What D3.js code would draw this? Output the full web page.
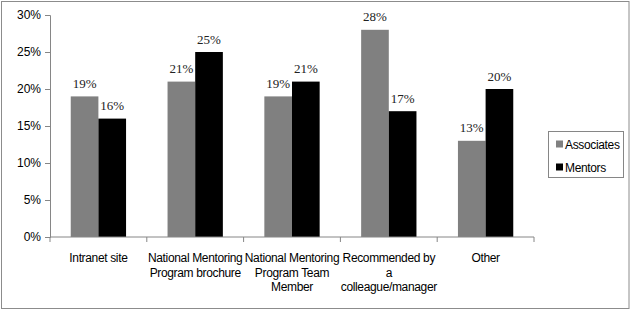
<!DOCTYPE html>
<html>
<head>
<meta charset="utf-8">
<script src="https://cdn.jsdelivr.net/npm/d3@7"></script>
<style>
  body { margin: 0; background: #fff; }
  .axis-label, .legend text { font-family: 'Liberation Sans', Arial, sans-serif; font-size: 12px; letter-spacing: -0.35px; fill: #000; }
  .tick-label { font-family: 'Liberation Sans', Arial, sans-serif; font-size: 12px; fill: #000; }
  .value-label { font-family: 'Liberation Serif', 'Times New Roman', serif; font-size: 13px; fill: #222; }
</style>
</head>
<body>
<div id="chart"></div>
<script>
const categories = ['Intranet site', 'National Mentoring\nProgram brochure', 'National Mentoring\nProgram Team\nMember', 'Recommended by\na\ncolleague/manager', 'Other']
const seriesNames = ['Associates', 'Mentors']
const associates = [19, 21, 19, 28, 13]
const mentors = [16, 25, 21, 17, 20]
const yTicks = [0, 5, 10, 15, 20, 25, 30]
const colors = ['#808080', '#000000']

const width = 632
const height = 310
const margins = {top: 15, left: 50, right: 98, bottom: 73}

const data = categories.map((c, i) => ({cat: c, values: [associates[i], mentors[i]]}))

const svg = d3.select('#chart')
  .append('svg')
  .attr('width', width)
  .attr('height', height)

// outer frame
svg.append('rect')
  .attr('x', 1.5).attr('y', 1.5)
  .attr('width', 627.5).attr('height', 307)
  .attr('fill', 'none')
  .attr('stroke', '#8c8c8c')

const x = d3.scaleBand()
  .domain(categories)
  .range([margins.left, width - margins.right])
  .paddingInner(0).paddingOuter(0)

const xInner = d3.scaleBand()
  .domain(seriesNames)
  .range([0, x.bandwidth()])
  .paddingInner(0)
  .paddingOuter(0.75)

const y = d3.scaleLinear()
  .domain([0, 30])
  .range([height - margins.bottom, margins.top])

// y-axis
const yAxisG = svg.append('g')
  .attr('transform', 'translate(' + margins.left + ',0)')
  .call(d3.axisLeft(y).tickValues(yTicks).tickFormat(d => d + '%').tickSizeOuter(0).tickSize(5).tickPadding(4))
yAxisG.select('.domain').attr('stroke', '#868686')
yAxisG.selectAll('.tick line').attr('stroke', '#868686')
yAxisG.selectAll('.tick text').attr('class', 'tick-label').attr('font-size', null).attr('font-family', null)

// bars
const groups = svg.append('g').classed('bars', true)
  .selectAll('g')
  .data(data)
  .enter().append('g')
  .attr('transform', d => 'translate(' + x(d.cat) + ',0)')

groups.selectAll('rect')
  .data(d => d.values.map((v, i) => ({name: seriesNames[i], v: v, i: i})))
  .enter().append('rect')
  .attr('x', d => xInner(d.name))
  .attr('y', d => y(d.v))
  .attr('width', xInner.bandwidth())
  .attr('height', d => y(0) - y(d.v))
  .attr('fill', d => colors[d.i])

groups.selectAll('text.value-label')
  .data(d => d.values.map((v, i) => ({name: seriesNames[i], v: v, i: i})))
  .enter().append('text')
  .classed('value-label', true)
  .attr('x', d => xInner(d.name) + xInner.bandwidth() / 2)
  .attr('y', d => y(d.v) - 8.5)
  .attr('text-anchor', 'middle')
  .text(d => d.v + '%')

// x-axis
const xAxisG = svg.append('g')
  .attr('transform', 'translate(0,' + y(0) + ')')
xAxisG.append('line')
  .attr('x1', margins.left).attr('x2', width - margins.right)
  .attr('stroke', '#868686')
xAxisG.selectAll('line.tick')
  .data(categories.concat(['__end']))
  .enter().append('line')
  .attr('x1', (d, i) => i < categories.length ? x(d) : x.range()[1])
  .attr('x2', (d, i) => i < categories.length ? x(d) : x.range()[1])
  .attr('y1', 0).attr('y2', 5)
  .attr('stroke', '#868686')

const labels = xAxisG.selectAll('text')
  .data(categories)
  .enter().append('text')
  .classed('axis-label', true)
  .attr('text-anchor', 'middle')
  .attr('transform', d => 'translate(' + (x(d) + x.bandwidth() / 2) + ',25)')
labels.selectAll('tspan')
  .data(d => d.split('\n'))
  .enter().append('tspan')
  .attr('x', 0)
  .attr('dy', (d, i) => i === 0 ? 0 : 14.5)
  .text(d => d)

// legend
const legend = svg.append('g').classed('legend', true)
legend.append('rect')
  .attr('x', 548.5).attr('y', 131.5)
  .attr('width', 75).attr('height', 46)
  .attr('fill', '#fff')
  .attr('stroke', '#868686')
const items = legend.selectAll('g.item')
  .data(seriesNames)
  .enter().append('g')
  .attr('transform', (d, i) => 'translate(556,' + (144 + i * 23) + ')')
items.append('rect')
  .attr('x', 0).attr('y', -3.5)
  .attr('width', 7).attr('height', 7)
  .attr('fill', (d, i) => colors[i])
items.append('text')
  .attr('x', 9).attr('y', 4.5)
  .text(d => d)
</script>
</body>
</html>
